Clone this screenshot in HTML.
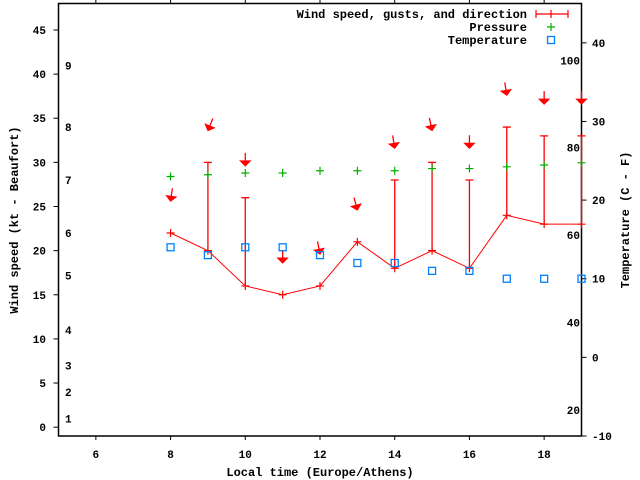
<!DOCTYPE html>
<html><head><meta charset="utf-8"><style>
html,body{margin:0;padding:0;background:#fff;}
svg{display:block;font-family:"Liberation Mono",monospace;font-weight:bold;}
</style></head><body>
<svg id="chart" width="640" height="480" viewBox="0 0 640 480" xmlns="http://www.w3.org/2000/svg">
<rect x="0" y="0" width="640" height="480" fill="#fff"/>
<g id="axes"></g>
<g id="marks"></g>
<g id="legend"></g>
</svg>
<script>
const hours = [8,9,10,11,12,13,14,15,16,17,18,19];
const windKt = [22,20,16,15,16,21,18,20,18,24,23,23];
const gustKt = [null,30,26,null,null,null,28,30,28,34,33,33];
const dirTilt = [-8,-22,0,0,11,15,9,12,0,9,0,0];
const pressureScaled = [28.4,28.6,28.8,28.8,29.05,29.05,29.05,29.3,29.3,29.5,29.7,29.95];
const tempC = [14,13,14,14,13,12,12,11,11,10,10,10];
const xTicks = [6,8,10,12,14,16,18];
const yTicks = [0,5,10,15,20,25,30,35,40,45];
const cTicks = [-10,0,10,20,30,40];
const fLabels = [20,40,60,80,100];
const bftLabels = [1,2,3,4,5,6,7,8,9];
const bftY = [1.0,4.0,7.0,11.0,17.2,22.0,28.0,34.0,41.0];

const L=58.5,R=581.5,T=3.5,B=436;
const X=v=>L+(v-5)/(19-5)*(R-L);
const Y=v=>B-(v+1)/(48+1)*(B-T);
const YC=c=>B-(c+10)/(45+10)*(B-T);
const NS='http://www.w3.org/2000/svg';
function mk(tag,attrs,parent,text){const e=document.createElementNS(NS,tag);for(const k in attrs)e.setAttribute(k,attrs[k]);if(text!==undefined)e.textContent=text;parent.appendChild(e);return e;}
const ax=document.getElementById('axes'),mg=document.getElementById('marks'),lg=document.getElementById('legend');

let e=mk('rect',{x:L,y:T,width:R-L,height:B-T,fill:'none',stroke:'#000','stroke-width':1.5},ax);


xTicks.forEach(v=>{
  mk('line',{x1:X(v),x2:X(v),y1:B,y2:B+4,stroke:'#000'},ax);
  mk('line',{x1:X(v),x2:X(v),y1:T,y2:T-4,stroke:'#000'},ax);
  e=mk('text',{x:X(v),y:B+22,'text-anchor':'middle','font-size':11},ax,String(v));
  
  
});
yTicks.forEach(v=>{
  mk('line',{x1:L-5,x2:L,y1:Y(v),y2:Y(v),stroke:'#000'},ax);
  e=mk('text',{x:46,y:Y(v)+4,'text-anchor':'end','font-size':11},ax,String(v));
  
  
});
cTicks.forEach(v=>{
  mk('line',{x1:R,x2:R+5,y1:YC(v),y2:YC(v),stroke:'#000'},ax);
  e=mk('text',{x:592,y:YC(v)+4,'text-anchor':'start','font-size':11},ax,String(v));
  
  
});
fLabels.forEach(f=>{
  e=mk('text',{x:580,y:YC((f-32)*5/9)+4,'text-anchor':'end','font-size':11},ax,String(f));
  
  
});
bftLabels.forEach((b,i)=>{
  e=mk('text',{x:65,y:Y(bftY[i])+4,'text-anchor':'start','font-size':11},ax,String(b));
  
  
});
e=mk('text',{x:320,y:476,'text-anchor':'middle','font-size':12},ax,'Local time (Europe/Athens)');


e=mk('text',{x:0,y:0,'text-anchor':'middle','font-size':12,transform:'translate(18,220) rotate(-90)'},ax,'Wind speed (kt - Beaufort)');


e=mk('text',{x:0,y:0,'text-anchor':'middle','font-size':12,transform:'translate(629,220) rotate(-90)'},ax,'Temperature (C - F)');



e=mk('polyline',{points:hours.map((h,i)=>X(h)+','+Y(windKt[i])).join(' '),fill:'none',stroke:'#f00','stroke-width':1},mg);


hours.forEach((h,i)=>{
  const x=X(h),y=Y(windKt[i]);
  e=mk('path',{d:`M${x-4},${y}H${x+4}M${x},${y-4}V${y+4}`,stroke:'#f00','stroke-width':1.2},mg);
  
  
  if(gustKt[i]!==null){
    const g=Y(gustKt[i]);
    e=mk('path',{d:`M${x},${y}V${g}M${x-4},${g}H${x+4}`,stroke:'#f00','stroke-width':1.3},mg);
    
    
  }
  const top=Math.max(windKt[i],gustKt[i]===null?0:gustKt[i]);
  const ty=Y(top+3.6);
  const a=dirTilt[i];
  const g2=mk('g',{transform:`translate(${x},${ty}) rotate(${-a})`},mg);
  
  
  mk('line',{x1:0,y1:-13,x2:0,y2:-3,stroke:'#f00','stroke-width':1.3},g2);
  mk('polygon',{points:'-5,-5 5,-5 0,0',fill:'#f00',stroke:'#f00','stroke-width':1},g2);
  const py=Y(pressureScaled[i]);
  e=mk('path',{d:`M${x-4},${py}H${x+4}M${x},${py-4}V${py+4}`,stroke:'#00b000','stroke-width':1.2},mg);
  
  
  const cy=YC(tempC[i]);
  e=mk('rect',{x:x-3.5,y:cy-3.5,width:7,height:7,fill:'none',stroke:'#0080ff','stroke-width':1.3},mg);
  
  
});

const rows=[['Wind speed, gusts, and direction',14],['Pressure',27],['Temperature',40]];
rows.forEach(r=>{
  e=mk('text',{x:527,y:r[1]+4,'text-anchor':'end','font-size':12},lg,r[0]);
  
  
});
e=mk('path',{d:'M536,14H568M536,10V18M568,10V18M551,10V18',stroke:'#f00','stroke-width':1.2},lg);


e=mk('path',{d:'M547,27H555M551,23V31',stroke:'#00b000','stroke-width':1.2},lg);


e=mk('rect',{x:547.5,y:36.5,width:7,height:7,fill:'none',stroke:'#0080ff','stroke-width':1.3},lg);


</script>
</body></html>
